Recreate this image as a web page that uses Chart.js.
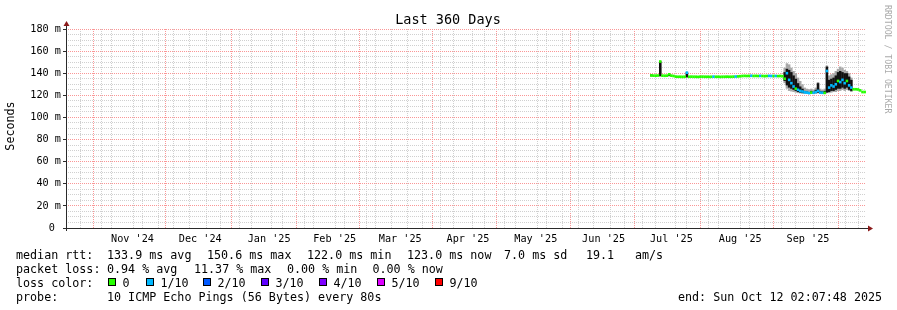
<!DOCTYPE html>
<html><head><meta charset="utf-8">
<script src="https://cdn.jsdelivr.net/npm/chart.js@4/dist/chart.umd.min.js"></script>
<style>html,body{margin:0;padding:0;background:#fff}canvas{display:block}</style>
</head><body>
<canvas id="c" width="897" height="310"></canvas>
<script>
// ---------- data ----------
const dates = [
'2025-07-07','2025-07-08','2025-07-09','2025-07-10','2025-07-11','2025-07-12','2025-07-13','2025-07-14','2025-07-15','2025-07-16',
'2025-07-17','2025-07-18','2025-07-19','2025-07-20','2025-07-21','2025-07-22','2025-07-23','2025-07-24','2025-07-25','2025-07-26',
'2025-07-27','2025-07-28','2025-07-29','2025-07-30','2025-07-31',
'2025-08-01','2025-08-02','2025-08-03','2025-08-04','2025-08-05','2025-08-06','2025-08-07','2025-08-08','2025-08-09','2025-08-10',
'2025-08-11','2025-08-12','2025-08-13','2025-08-14','2025-08-15','2025-08-16','2025-08-17','2025-08-18','2025-08-19','2025-08-20',
'2025-08-21','2025-08-22','2025-08-23','2025-08-24','2025-08-25','2025-08-26','2025-08-27','2025-08-28','2025-08-29','2025-08-30','2025-08-31',
'2025-09-01','2025-09-02','2025-09-03','2025-09-04','2025-09-05','2025-09-06','2025-09-07','2025-09-08','2025-09-09','2025-09-10',
'2025-09-11','2025-09-12','2025-09-13','2025-09-14','2025-09-15','2025-09-16','2025-09-17','2025-09-18','2025-09-19','2025-09-20',
'2025-09-21','2025-09-22','2025-09-23','2025-09-24','2025-09-25','2025-09-26','2025-09-27','2025-09-28','2025-09-29','2025-09-30',
'2025-10-01','2025-10-02','2025-10-03','2025-10-04','2025-10-05','2025-10-06','2025-10-07','2025-10-08','2025-10-09','2025-10-10','2025-10-11'
];
const medianRtt = [
138.0,137.8,137.8,137.9,150.6,137.8,137.7,137.8,139.0,137.8,
137.5,136.9,136.8,136.8,136.7,136.8,140.5,136.8,136.9,136.8,
136.8,136.7,136.8,136.9,136.8,
136.8,136.7,136.8,136.9,136.8,136.8,136.7,136.8,136.8,136.9,
136.8,136.8,136.9,137.0,137.1,137.3,137.5,137.6,137.5,137.6,
137.7,137.5,137.6,137.5,137.6,137.5,137.4,137.5,137.6,137.5,137.5,
137.5,137.4,137.5,137.3,135.0,140.0,134.0,131.0,128.0,126.0,
125.0,124.0,123.5,122.7,122.5,122.0,122.5,122.3,123.0,124.0,
122.5,122.3,122.2,142.0,127.0,129.0,128.0,130.0,133.0,132.0,
134.0,131.0,133.0,129.0,127.0,125.5,125.5,125.3,124.5,123.0,123.0
];
const lossTenths = [
0,0,0,0,0,0,0,0,0,0,
0,0,0,0,0,0,1,0,0,0,
0,0,0,0,0,
0,0,0,1,0,0,0,0,0,0,
0,0,0,1,0,0,0,0,0,0,
1,0,0,0,1,0,0,0,1,1,0,
1,0,0,0,0,1,1,1,1,0,
1,1,1,1,1,1,0,1,1,1,
1,1,0,1,1,1,1,1,0,1,
1,1,0,1,1,0,0,0,0,0,0
];
const smokeDates = [
'2025-07-07','2025-07-11','2025-07-15','2025-07-23',
'2025-09-05','2025-09-06','2025-09-07','2025-09-08','2025-09-09','2025-09-10','2025-09-11','2025-09-12','2025-09-13','2025-09-14',
'2025-09-15','2025-09-16','2025-09-17','2025-09-18','2025-09-19','2025-09-20','2025-09-21','2025-09-22','2025-09-23','2025-09-24',
'2025-09-25','2025-09-26','2025-09-27','2025-09-28','2025-09-29','2025-09-30','2025-10-01','2025-10-02','2025-10-03','2025-10-04',
'2025-10-05'
];
const smokeLo = [137.0,137.0,137.2,136.0,
131,126,124,123.5,123,122.5,122,121.8,121.5,121.5,
121.5,121.3,121.5,121.5,121.5,121.8,121.5,121.5,121.5,122,
122,122.5,123,123,124,124,125,124,125,124,
123];
const smokeHi = [139.0,151.0,139.5,141.0,
145,149,148,145,142,140,136,133,130,127,
126,125.5,126,125,127,132,126,125,126,147,
138,139,140,142,144,146,145,143,142,140,
136];
const coreLo = [137.3,137.3,137.4,136.3,
133,129,127,126,125,124,123,122.5,122,122,
122,121.7,121.8,121.8,122,122.3,122,121.8,121.8,122.5,
123,124,124,125,126,126,127,126,127,125,
124];
const coreHi = [138.8,150.6,139.3,140.8,
141,144,143,141,138,135,131,128,126,124,
123.5,123,124,123.2,125,131,124,123.5,124,146,
134,135,136,138,141,142,141,140,140,137,
134];

const monthStarts = ['2024-10-01','2024-11-01','2024-12-01','2025-01-01','2025-02-01','2025-03-01','2025-04-01',
  '2025-05-01','2025-06-01','2025-07-01','2025-08-01','2025-09-01','2025-10-01','2025-11-01'];
const monthLabels = ["Oct '24","Nov '24","Dec '24","Jan '25","Feb '25","Mar '25","Apr '25",
  "May '25","Jun '25","Jul '25","Aug '25","Sep '25","Oct '25","Nov '25"];
const yMajor = [0,20,40,60,80,100,120,140,160,180];
const yLabels = ['0 ','20 m','40 m','60 m','80 m','100 m','120 m','140 m','160 m','180 m'];
const lossColors = ['#26ff00','#00b8ff','#0059ff','#5e00ff','#7e00ff','#dd00ff','#ff0000'];
const lossNames = ['0','1/10','2/10','3/10','4/10','5/10','9/10'];

// ---------- helpers ----------
const START = Date.UTC(2024,9,17,2,7,48);
const SPAN = 360;
const BAND = 1.2;      // half thickness of the median band (style)
const BAR_PX = 2.5;    // bar width in px (style)
function dayOf(s, h){ const p = s.split('-').map(Number); return (Date.UTC(p[0],p[1]-1,p[2],h||0)-START)/864e5; }

const xTicks = [];
for (let t = Date.UTC(2024,9,20); (t-START)/864e5 < SPAN; t += 7*864e5) xTicks.push({value:(t-START)/864e5, kind:'week'});
monthStarts.forEach(s => { const v = dayOf(s,0); if (v>0 && v<SPAN) xTicks.push({value:v, kind:'month'}); });
monthStarts.forEach((s,i) => {
  if (i+1 < monthStarts.length) {
    const mid = (dayOf(s,0)+dayOf(monthStarts[i+1],0))/2;
    if (mid>0 && mid<SPAN) xTicks.push({value:mid, kind:'label', txt:monthLabels[i]});
  }
});
xTicks.sort((a,b)=>a.value-b.value);
const yTicks = [];
for (let v=0; v<=180; v+=5) yTicks.push({value:v});

const MONO = "'DejaVu Sans Mono', monospace";
const GRID_MAJOR = 'rgb(250,150,150)';
const GRID_MINOR = 'rgb(208,208,208)';

const deco = {
  id:'deco',
  afterDraw(chart){
    const ctx = chart.ctx, a = chart.chartArea;
    ctx.save();
    ctx.strokeStyle = '#2a2a2a'; ctx.lineWidth = 1;
    ctx.beginPath(); ctx.moveTo(a.left+0.5, a.bottom+3); ctx.lineTo(a.left+0.5, a.top-3); ctx.stroke();
    ctx.beginPath(); ctx.moveTo(a.left-1, a.bottom+0.5); ctx.lineTo(a.right+3, a.bottom+0.5); ctx.stroke();
    ctx.fillStyle = '#8b1a1a';
    ctx.beginPath(); ctx.moveTo(a.left+0.5, a.top-8); ctx.lineTo(a.left-2.5, a.top-3); ctx.lineTo(a.left+3.5, a.top-3); ctx.closePath(); ctx.fill();
    ctx.beginPath(); ctx.moveTo(a.right+7, a.bottom+0.5); ctx.lineTo(a.right+2, a.bottom-2.5); ctx.lineTo(a.right+2, a.bottom+3.5); ctx.closePath(); ctx.fill();
    ctx.fillStyle = '#000';
    ctx.font = '13.5px ' + MONO; ctx.textAlign = 'center'; ctx.textBaseline = 'alphabetic';
    ctx.fillText('Last 360 Days', 448, 24);
    ctx.save(); ctx.translate(11, 126); ctx.rotate(-Math.PI/2);
    ctx.font = '11.7px ' + MONO; ctx.textBaseline = 'middle'; ctx.fillText('Seconds', 0, 0); ctx.restore();
    ctx.save(); ctx.translate(887, 5); ctx.rotate(Math.PI/2);
    ctx.font = '8.2px ' + MONO; ctx.textAlign = 'left'; ctx.textBaseline = 'middle'; ctx.fillStyle = '#aaaaaa';
    ctx.fillText('RRDTOOL / TOBI OETIKER', 0, 0); ctx.restore();
    ctx.font = '11.7px ' + MONO; ctx.textAlign = 'left'; ctx.textBaseline = 'alphabetic'; ctx.fillStyle = '#000';
    const L1 = [[16,'median rtt:'],[107,'133.9 ms avg'],[207,'150.6 ms max'],[307,'122.0 ms min'],[407,'123.0 ms now'],[504,'7.0 ms sd'],[586,'19.1'],[635,'am/s']];
    const L2 = [[16,'packet loss:'],[107,'0.94 % avg'],[194,'11.37 % max'],[287,'0.00 % min'],[372.5,'0.00 % now']];
    const L4 = [[16,'probe:'],[107,'10 ICMP Echo Pings (56 Bytes) every 80s'],[678,'end: Sun Oct 12 02:07:48 2025']];
    L1.forEach(t => ctx.fillText(t[1], t[0], 258.5));
    L2.forEach(t => ctx.fillText(t[1], t[0], 272.5));
    ctx.fillText('loss color:', 16, 286.5);
    L4.forEach(t => ctx.fillText(t[1], t[0], 300.5));
    const bx = [108,146,203,261,319,377,435];
    lossNames.forEach((n,i) => {
      ctx.fillStyle = lossColors[i]; ctx.fillRect(bx[i], 278, 8, 8);
      ctx.strokeStyle = '#000'; ctx.strokeRect(bx[i]+0.5, 278.5, 7, 7);
      ctx.fillStyle = '#000'; ctx.fillText(n, bx[i]+14.5, 286.5);
    });
    ctx.restore();
  }
};

const barCommon = { type:'bar', grouped:false, barThickness:BAR_PX, borderWidth:0, inflateAmount:0 };

new Chart(document.getElementById('c'), {
  data: {
    datasets: [
      Object.assign({}, barCommon, { label:'median', order:0,
        data: dates.map((s,i)=>({x:dayOf(s,12), y:[medianRtt[i]-BAND, medianRtt[i]+BAND]})),
        backgroundColor: lossTenths.map(l => lossColors[l]) }),
      Object.assign({}, barCommon, { label:'core', order:1,
        data: smokeDates.map((s,i)=>({x:dayOf(s,12), y:[coreLo[i], coreHi[i]]})),
        backgroundColor:'#111111' }),
      Object.assign({}, barCommon, { label:'smoke', order:2,
        data: smokeDates.map((s,i)=>({x:dayOf(s,12), y:[smokeLo[i], smokeHi[i]]})),
        backgroundColor:'#a8a8a8' })
    ]
  },
  options: {
    responsive:false, animation:false, devicePixelRatio:1,
    layout: { padding: { left:0, right:31, top:29, bottom:0 } },
    plugins: { legend:{display:false}, tooltip:{enabled:false}, title:{display:false} },
    scales: {
      x: { type:'linear', min:0, max:SPAN, offset:false,
        afterBuildTicks: s => { s.ticks = xTicks.map(t=>Object.assign({}, t)); },
        afterFit: s => { s.height = 82; },
        grid: { drawTicks:false, lineWidth:1,
          color: c => (c.tick && c.tick.kind==='month') ? GRID_MAJOR : (c.tick && c.tick.kind==='week') ? GRID_MINOR : 'rgba(0,0,0,0)' },
        border: { display:false, dash:[1,1] },
        ticks: { autoSkip:false, maxRotation:0, minRotation:0, padding:5, color:'#000',
          font:{ family:MONO, size:10.2 },
          callback: (v,i,t) => (t[i] && t[i].txt) ? t[i].txt : '' } },
      y: { type:'linear', min:0, max:180,
        afterBuildTicks: s => { s.ticks = yTicks.map(t=>Object.assign({}, t)); },
        afterFit: s => { s.width = 66; },
        grid: { drawTicks:true, tickLength:3, lineWidth:1,
          color: c => (c.tick && yMajor.includes(c.tick.value)) ? GRID_MAJOR : GRID_MINOR,
          tickColor: c => (c.tick && yMajor.includes(c.tick.value)) ? '#2a2a2a' : 'rgba(0,0,0,0)' },
        border: { display:false, dash:[1,1] },
        ticks: { autoSkip:false, padding:2, color:'#000', font:{ family:MONO, size:10.2 },
          callback: v => { const k = yMajor.indexOf(v); return k>=0 ? yLabels[k] : ''; } } }
    }
  },
  plugins: [deco]
});
</script>
</body></html>
